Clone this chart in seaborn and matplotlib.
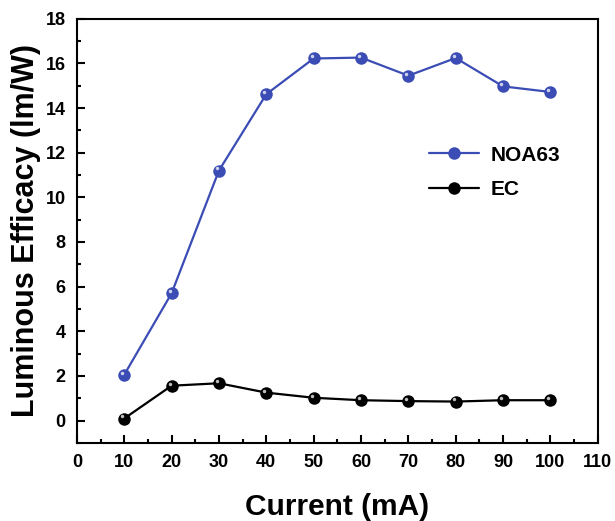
import pandas as pd
import seaborn as sns
import matplotlib.pyplot as plt
from matplotlib.ticker import MultipleLocator
from matplotlib.transforms import offset_copy

# data
current = [10, 20, 30, 40, 50, 60, 70, 80, 90, 100]
noa63 = [2.05, 5.7, 11.2, 14.62, 16.22, 16.26, 15.45, 16.24, 14.97, 14.72]
ec = [0.09, 1.56, 1.67, 1.25, 1.02, 0.91, 0.87, 0.85, 0.91, 0.91]
series = ["NOA63", "EC"]
colors = ["#3b4db5", "black"]

df = pd.DataFrame({
    "current": current * 2,
    "eff": noa63 + ec,
    "sample": [series[0]] * len(current) + [series[1]] * len(current),
})

sns.set_style("ticks")
plt.rcParams['font.family'] = ['Liberation Sans', 'DejaVu Sans']
plt.rcParams['font.weight'] = 'bold'
for key in ['text.color', 'axes.labelcolor', 'xtick.color', 'ytick.color', 'axes.edgecolor']:
    plt.rcParams[key] = 'black'

fig = plt.figure(figsize=(6.15, 5.21), dpi=100)
ax = fig.add_axes([0.125, 0.150, 0.847, 0.814])

sns.lineplot(data=df, x="current", y="eff", hue="sample", hue_order=series,
             palette=colors, marker="o", markersize=9, linewidth=1.6,
             markeredgewidth=0, ax=ax)

# little shine on the balls, shifted up-left
shine = offset_copy(ax.transData, fig=fig, x=-1.5, y=1.5, units="points")
for vals in (noa63, ec):
    ax.plot(current, vals, linestyle="none", marker="o", markersize=2.5,
            color="white", alpha=0.75, markeredgewidth=0, transform=shine)

ax.set_xlim(0, 110)
ax.set_ylim(-1, 18)
ax.xaxis.set_major_locator(MultipleLocator(10))
ax.xaxis.set_minor_locator(MultipleLocator(5))
ax.yaxis.set_major_locator(MultipleLocator(2))
ax.yaxis.set_minor_locator(MultipleLocator(1))
ax.tick_params(which="both", direction="in", width=1.5, labelsize=13)
ax.tick_params(which="major", length=6, pad=8)
ax.tick_params(which="minor", length=3)
plt.setp(ax.get_xticklabels() + ax.get_yticklabels(), fontweight="bold")
for sp in ax.spines.values():
    sp.set_linewidth(1.5)

ax.set_xlabel("Current (mA)", fontsize=21.5, fontweight="bold", labelpad=16)
ax.set_ylabel("Luminous Efficacy (lm/W)", fontsize=22, fontweight="bold", labelpad=3)

leg = ax.legend(frameon=False, loc="upper left", bbox_to_anchor=(0.64, 0.745),
                fontsize=15, handlelength=2.4, labelspacing=0.75, handletextpad=0.55)
for t in leg.get_texts():
    t.set_fontweight("bold")

plt.savefig("out.png", dpi=100)
